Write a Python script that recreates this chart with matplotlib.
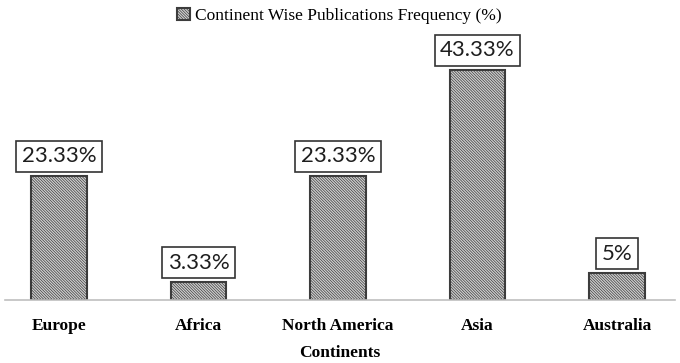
import matplotlib.pyplot as plt
import matplotlib as mpl
import numpy as np

## data
continents = ["Europe", "Africa", "North America", "Asia", "Australia"]
freq = [23.33, 3.33, 23.33, 43.33, 5]
freq_labels = ["23.33%", "3.33%", "23.33%", "43.33%", "5%"]

mpl.rcParams['hatch.color'] = '#8c8c8c'
mpl.rcParams['hatch.linewidth'] = 0.5
plt.rcParams['font.family'] = ['Liberation Serif', 'DejaVu Serif']

fig = plt.figure(figsize=(6.8, 3.63), dpi=100)
ax = fig.add_axes([5/680, 63/363, 670/680, 265.5/363])

x = np.arange(len(continents))
bars = ax.bar(x, freq, width=0.4, color='#d0d0d0', edgecolor='#3c3c3c',
              linewidth=1.5, hatch='\\' * 12,
              label='Continent Wise Publications Frequency (%)')

## value labels in boxes
for xi, v, lab in zip(x, freq, freq_labels):
    ax.annotate(lab, (xi, v), xytext=(0, 7), textcoords='offset points',
                ha='center', va='bottom', fontsize=16, family='Lato',
                color='#1e1e1e',
                bbox=dict(boxstyle='square,pad=0.25', fc='white',
                          ec='#333333', lw=1.2))

ax.set_xlim(-0.387, 4.416)
ax.set_ylim(0, 50)
ax.set_yticks([])
for s in ['top', 'right', 'left']:
    ax.spines[s].set_visible(False)
ax.spines['bottom'].set_color('#bfbfbf')
ax.spines['bottom'].set_linewidth(1.2)
ax.set_xticks(x)
ax.set_xticklabels(continents, fontsize=12.5, fontweight='bold')
ax.tick_params(axis='x', length=0, pad=13)
ax.set_xlabel('Continents', fontsize=12.5, fontweight='bold', labelpad=8)

ax.legend(loc='upper center', bbox_to_anchor=(334/670, 1.16),
          frameon=False, fontsize=12.5, handlelength=0.75, handleheight=0.75,
          handletextpad=0.3)

plt.savefig('out.png', dpi=100)
